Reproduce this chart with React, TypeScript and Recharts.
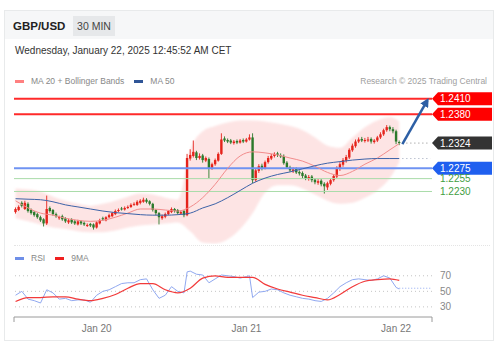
import React from 'react';
import { ComposedChart, LineChart, Bar, Line, Area, XAxis, YAxis, ReferenceLine } from 'recharts';

// 30 min candles, Jan 19 -> Jan 22
const opens = [
  1.2190, 1.2194, 1.2208, 1.2196, 1.2206, 1.2194, 1.2190, 1.2186, 1.2180, 1.2176,
  1.2168, 1.2198, 1.2194, 1.2186, 1.2178, 1.2182, 1.2178, 1.2170, 1.2176, 1.2172,
  1.2166, 1.2172, 1.2169, 1.2164, 1.2167, 1.2166, 1.2160, 1.2168, 1.2178, 1.2174,
  1.2180, 1.2182, 1.2186, 1.2192, 1.2197, 1.2195, 1.2198, 1.2200, 1.2205, 1.2204,
  1.2208, 1.2210, 1.2214, 1.2211, 1.2206, 1.2194, 1.2188, 1.2178, 1.2181, 1.2186,
  1.2190, 1.2196, 1.2194, 1.2187, 1.2192, 1.2184, 1.2294, 1.2299, 1.2306, 1.2295,
  1.2300, 1.2290, 1.2293, 1.2276, 1.2283, 1.2290, 1.2303, 1.2333, 1.2330, 1.2329,
  1.2324, 1.2328, 1.2325, 1.2330, 1.2327, 1.2331, 1.2335, 1.2252, 1.2270, 1.2280,
  1.2276, 1.2287, 1.2294, 1.2299, 1.2304, 1.2300, 1.2299, 1.2286, 1.2277, 1.2270,
  1.2274, 1.2268, 1.2266, 1.2261, 1.2255, 1.2259, 1.2253, 1.2247, 1.2251, 1.2245,
  1.2238, 1.2245, 1.2252, 1.2259, 1.2274, 1.2282, 1.2290, 1.2296, 1.2310, 1.2318,
  1.2327, 1.2332, 1.2328, 1.2329, 1.2332, 1.2326, 1.2329, 1.2335, 1.2341, 1.2349,
  1.2355, 1.2351, 1.2347, 1.2326,
];
const highs = [
  1.2199, 1.2203, 1.2211, 1.2212, 1.2209, 1.2197, 1.2192, 1.2189, 1.2183, 1.2178,
  1.2222, 1.2201, 1.2196, 1.2189, 1.2183, 1.2185, 1.2180, 1.2177, 1.2178, 1.2175,
  1.2175, 1.2174, 1.2172, 1.2168, 1.2169, 1.2168, 1.2172, 1.2177, 1.2181, 1.2182,
  1.2187, 1.2190, 1.2195, 1.2197, 1.2200, 1.2201, 1.2203, 1.2207, 1.2209, 1.2213,
  1.2215, 1.2218, 1.2217, 1.2213, 1.2208, 1.2196, 1.2190, 1.2185, 1.2189, 1.2194,
  1.2199, 1.2198, 1.2196, 1.2193, 1.2194, 1.2303, 1.2312, 1.2329, 1.2309, 1.2304,
  1.2303, 1.2298, 1.2296, 1.2286, 1.2294, 1.2306, 1.2343, 1.2337, 1.2333, 1.2332,
  1.2330, 1.2331, 1.2332, 1.2333, 1.2334, 1.2341, 1.2343, 1.2274, 1.2283, 1.2284,
  1.2290, 1.2299, 1.2303, 1.2306, 1.2307, 1.2304, 1.2302, 1.2289, 1.2280, 1.2277,
  1.2277, 1.2271, 1.2269, 1.2264, 1.2262, 1.2262, 1.2256, 1.2254, 1.2254, 1.2248,
  1.2249, 1.2255, 1.2263, 1.2279, 1.2287, 1.2295, 1.2301, 1.2314, 1.2323, 1.2331,
  1.2335, 1.2336, 1.2334, 1.2336, 1.2335, 1.2332, 1.2338, 1.2345, 1.2352, 1.2359,
  1.2358, 1.2355, 1.2350, 1.2329,
];
const lows = [
  1.2187, 1.2192, 1.2199, 1.2194, 1.2189, 1.2185, 1.2181, 1.2177, 1.2171, 1.2162,
  1.2165, 1.2189, 1.2183, 1.2179, 1.2175, 1.2173, 1.2169, 1.2167, 1.2167, 1.2165,
  1.2164, 1.2165, 1.2163, 1.2161, 1.2161, 1.2156, 1.2158, 1.2166, 1.2173, 1.2172,
  1.2178, 1.2180, 1.2184, 1.2190, 1.2193, 1.2193, 1.2196, 1.2198, 1.2202, 1.2202,
  1.2205, 1.2208, 1.2207, 1.2203, 1.2191, 1.2184, 1.2166, 1.2175, 1.2178, 1.2184,
  1.2188, 1.2189, 1.2185, 1.2185, 1.2180, 1.2182, 1.2290, 1.2296, 1.2291, 1.2292,
  1.2286, 1.2287, 1.2256, 1.2272, 1.2280, 1.2288, 1.2301, 1.2326, 1.2324, 1.2322,
  1.2321, 1.2322, 1.2323, 1.2324, 1.2325, 1.2329, 1.2246, 1.2249, 1.2266, 1.2271,
  1.2273, 1.2284, 1.2291, 1.2296, 1.2297, 1.2295, 1.2282, 1.2274, 1.2268, 1.2266,
  1.2264, 1.2261, 1.2256, 1.2252, 1.2251, 1.2248, 1.2244, 1.2243, 1.2240, 1.2226,
  1.2233, 1.2242, 1.2249, 1.2256, 1.2270, 1.2278, 1.2286, 1.2293, 1.2307, 1.2315,
  1.2324, 1.2326, 1.2325, 1.2326, 1.2323, 1.2323, 1.2326, 1.2332, 1.2338, 1.2346,
  1.2347, 1.2343, 1.2322, 1.2320,
];
const closes = [
  1.2196, 1.2200, 1.2202, 1.2208, 1.2192, 1.2188, 1.2184, 1.2180, 1.2174, 1.2168,
  1.2196, 1.2192, 1.2186, 1.2182, 1.2180, 1.2176, 1.2172, 1.2174, 1.2170, 1.2168,
  1.2172, 1.2168, 1.2166, 1.2165, 1.2164, 1.2160, 1.2170, 1.2174, 1.2176, 1.2180,
  1.2184, 1.2188, 1.2192, 1.2194, 1.2196, 1.2198, 1.2200, 1.2204, 1.2206, 1.2210,
  1.2212, 1.2214, 1.2210, 1.2206, 1.2194, 1.2188, 1.2180, 1.2182, 1.2186, 1.2192,
  1.2196, 1.2192, 1.2188, 1.2190, 1.2184, 1.2295, 1.2301, 1.2307, 1.2295, 1.2299,
  1.2291, 1.2295, 1.2275, 1.2283, 1.2291, 1.2303, 1.2331, 1.2329, 1.2327, 1.2325,
  1.2327, 1.2325, 1.2329, 1.2327, 1.2331, 1.2335, 1.2252, 1.2271, 1.2279, 1.2275,
  1.2287, 1.2295, 1.2299, 1.2303, 1.2301, 1.2299, 1.2285, 1.2277, 1.2271, 1.2273,
  1.2267, 1.2265, 1.2260, 1.2256, 1.2258, 1.2252, 1.2248, 1.2250, 1.2244, 1.2240,
  1.2246, 1.2252, 1.2260, 1.2275, 1.2283, 1.2291, 1.2297, 1.2311, 1.2319, 1.2327,
  1.2331, 1.2329, 1.2330, 1.2331, 1.2327, 1.2329, 1.2335, 1.2341, 1.2349, 1.2355,
  1.2351, 1.2347, 1.2327, 1.2324,
];

// empty slots to the right of the last candle
const extraSlots = 10;

// indicator samples (candle index -> value)
const bandIdx = [0, 4, 8, 12, 16, 20, 24, 28, 32, 36, 40, 44, 48, 52, 56, 60, 64, 68, 72, 76, 80, 84, 88, 92, 96, 100, 104, 108, 112, 116, 120, 123];
const ma20 = [1.2212, 1.2198, 1.2188, 1.2184, 1.2178, 1.2174, 1.2172, 1.2174, 1.2180, 1.2188, 1.2196, 1.2196, 1.2194, 1.2192, 1.2200, 1.2218, 1.2244, 1.2275, 1.2299, 1.2307, 1.2305, 1.2301, 1.2295, 1.2289, 1.2279, 1.2267, 1.2261, 1.2269, 1.2283, 1.2295, 1.2311, 1.2323];
const ma50 = [1.2216, 1.2215, 1.2214, 1.2210, 1.2204, 1.2200, 1.2196, 1.2192, 1.2189, 1.2187, 1.2185, 1.2184, 1.2184, 1.2185, 1.2188, 1.2198, 1.2206, 1.2218, 1.2232, 1.2246, 1.2256, 1.2263, 1.2268, 1.2274, 1.2280, 1.2285, 1.2288, 1.2291, 1.2293, 1.2294, 1.2294, 1.2294];
const bbUpper = [1.2236, 1.2234, 1.2230, 1.2220, 1.2212, 1.2206, 1.2202, 1.2206, 1.2212, 1.2220, 1.2226, 1.2224, 1.2218, 1.2214, 1.2311, 1.2347, 1.2357, 1.2364, 1.2368, 1.2368, 1.2366, 1.2362, 1.2357, 1.2349, 1.2335, 1.2319, 1.2315, 1.2335, 1.2355, 1.2368, 1.2374, 1.2366];
const bbLower = [1.2178, 1.2172, 1.2166, 1.2160, 1.2157, 1.2153, 1.2151, 1.2151, 1.2154, 1.2160, 1.2164, 1.2166, 1.2168, 1.2170, 1.2153, 1.2131, 1.2129, 1.2137, 1.2157, 1.2188, 1.2228, 1.2242, 1.2242, 1.2236, 1.2224, 1.2212, 1.2206, 1.2208, 1.2218, 1.2232, 1.2256, 1.2287];

const levels = [1.2410, 1.2380, 1.2324, 1.2275, 1.2255, 1.2230];
const levelLine = ['#ff2a2a', '#ff2a2a', '', '#6f93f2', '#a9dca9', '#a9dca9'];
const levelBox = ['#ff0000', '#ff0000', '#333333', '#1f5fef', '', ''];
const lastPrice = 1.2324;
const ma50Last = 1.2294;
const forecastIdx = [124, 132];
const forecast = [1.2322, 1.2407];

const rsiIdx = [0, 2, 4, 6, 8, 10, 12, 14, 16, 18, 20, 22, 24, 26, 28, 30, 32, 34, 36, 38, 40, 42, 44, 46, 48, 50, 52, 54, 55, 56, 58, 60, 62, 64, 66, 68, 70, 72, 74, 75, 76, 78, 80, 82, 84, 86, 88, 90, 92, 94, 96, 98, 100, 102, 104, 106, 108, 110, 112, 114, 116, 118, 120, 122, 123];
const rsiVals = [45, 50, 40, 38, 35, 52, 48, 40, 41, 38, 39, 39, 36, 45, 50, 52, 56, 60, 61, 61, 65, 66, 52, 41, 45, 56, 50, 48, 75, 76, 72, 71, 61, 66, 71, 70, 69, 67, 69, 70, 42, 49, 50, 53, 52, 48, 45, 43, 41, 40, 38, 37, 41, 48, 56, 61, 65, 66, 65, 64, 66, 70, 67, 55, 53];
const rsiMa = [37, 42, 42, 43, 43, 40, 38, 41, 46, 54, 60, 60, 52, 48, 54, 67, 70, 68, 68, 68, 59, 53, 49, 45, 42, 39, 46, 56, 63, 65, 66, 64];
const rsiLast = 54;
const rsiLevels = [70, 50, 30];

const dayTicks = [26, 74, 122];
const dayLabels = ['Jan 20', 'Jan 21', 'Jan 22'];

const n = closes.length;
const total = n + extraSlots;

const rows: any[] = Array.from({ length: total }, (_, i) => ({ i }));
closes.forEach((c, i) => {
  rows[i].range = [lows[i], highs[i]];
  rows[i].o = opens[i];
  rows[i].c = c;
});
bandIdx.forEach((idx, k) => {
  rows[idx].ma20 = ma20[k];
  rows[idx].ma50 = ma50[k];
  rows[idx].bb = [bbLower[k], bbUpper[k]];
});
forecastIdx.forEach((idx, k) => { rows[idx].fc = forecast[k]; });
rows[n].last = lastPrice;
rows[total - 1].last = lastPrice;
rows[n].ma50x = ma50Last;
rows[total - 1].ma50x = ma50Last;

const rsiData = rsiIdx.map((i, k) => ({ i, v: rsiVals[k] }));
const rsiMaData = bandIdx.map((i, k) => ({ i, v: rsiMa[k] }));
const rsiExt = [{ i: n - 1, v: rsiLast }, { i: total - 1, v: rsiLast }];

const font = 'Arial, "Liberation Sans", Helvetica, sans-serif';

function Candle(props: any) {
  const { x, y, width, height, payload } = props;
  if (!payload || payload.o == null || !Array.isArray(payload.range)) return null;
  const [lo, hi] = payload.range;
  const top = Math.min(y, y + height);
  const h = Math.abs(height);
  const py = (v: number) => top + ((hi - v) / (hi - lo)) * h;
  const up = payload.c >= payload.o;
  const color = up ? '#e5231b' : '#2b7a2b';
  const cx = x + width / 2;
  const bTop = py(Math.max(payload.o, payload.c));
  const bBot = py(Math.min(payload.o, payload.c));
  return (
    <g>
      <line x1={cx} x2={cx} y1={top} y2={top + h} stroke={color} strokeWidth={0.9} />
      <rect x={cx - 1.2} y={bTop} width={2.4} height={Math.max(1, bBot - bTop)} fill={color} />
    </g>
  );
}

function LevelTick(props: any) {
  const { x, y, payload } = props;
  const k = levels.indexOf(payload.value);
  const txt = Number(payload.value).toFixed(4);
  const box = levelBox[k];
  if (!box) {
    return (
      <text x={x + 8} y={y} dy="0.35em" fill="#3f9e3f" fontSize={10} fontFamily={font}>{txt}</text>
    );
  }
  return (
    <g>
      <path d={`M${x},${y} L${x + 6},${y - 6.5} L${x + 60},${y - 6.5} L${x + 60},${y + 6.5} L${x + 6},${y + 6.5} Z`} fill={box} />
      <text x={x + 8} y={y} dy="0.35em" fill="#fff" fontSize={10} fontFamily={font}>{txt}</text>
    </g>
  );
}

function DayTick(props: any) {
  const { x, y, payload } = props;
  const k = dayTicks.indexOf(payload.value);
  if (k < 0) {
    return <line x1={x} x2={x} y1={y - 8} y2={y - 3} stroke="#9a9a9a" strokeWidth={1} />;
  }
  return (
    <text x={x} y={y} dy="0.71em" textAnchor="middle" fill="#777" fontSize={10} fontFamily={font}>{dayLabels[k]}</text>
  );
}

const swatch = (color: string) => ({
  display: 'inline-block', width: 9, height: 3, background: color, marginRight: 7, verticalAlign: 'middle',
});

export default function App() {
  return (
    <div style={{ position: 'absolute', left: 0, top: 0, width: 504, height: 356, background: '#fff', fontFamily: font, overflow: 'hidden' }}>
      {/* card + header */}
      <div style={{ position: 'absolute', left: 4, top: 10, width: 488, height: 329, border: '1px solid #e8eaeb' }} />
      <div style={{ position: 'absolute', left: 5, top: 11, width: 488, height: 28, background: '#f6f7f8' }} />
      <div style={{ position: 'absolute', left: 13, top: 19, fontSize: 11.5, fontWeight: 700, color: '#222', lineHeight: '14px' }}>GBP/USD</div>
      <div style={{ position: 'absolute', left: 73, top: 16, width: 42, height: 20, background: '#e6e8ea', color: '#444', fontSize: 10.5, lineHeight: '20px', textAlign: 'center' }}>30 MIN</div>
      <div style={{ position: 'absolute', left: 15, top: 45, fontSize: 10, color: '#333', lineHeight: '12px', whiteSpace: 'nowrap' }}>
        Wednesday, January 22, 2025 12:45:52 AM CET
      </div>

      {/* legend */}
      <div style={{ position: 'absolute', left: 15, top: 76, fontSize: 8.5, color: '#888', lineHeight: '11px', whiteSpace: 'nowrap' }}>
        <span style={swatch('#ff8080')} />MA 20 + Bollinger Bands
        <span style={{ ...swatch('#2f5597'), marginLeft: 10 }} />MA 50
      </div>
      <div style={{ position: 'absolute', right: 17, top: 76, fontSize: 8.5, color: '#a0a0a0', lineHeight: '11px', whiteSpace: 'nowrap' }}>
        Research © 2025 Trading Central
      </div>

      {/* price panel */}
      <div style={{ position: 'absolute', left: 0, top: 0 }}>
        <ComposedChart width={504} height={250} data={rows} margin={{ top: 88, right: 0, bottom: 6, left: 14 }} barCategoryGap={0}>
          <defs>
            <filter id="soft" x="-10%" y="-10%" width="120%" height="120%">
              <feGaussianBlur stdDeviation="1.3" />
            </filter>
            <marker id="arrowHead" viewBox="0 0 10 10" refX="7" refY="5" markerWidth="3.6" markerHeight="3.6" orient="auto">
              <path d="M0,0 L10,5 L0,10 z" fill="#2d5fa5" />
            </marker>
          </defs>
          <XAxis dataKey="i" hide />
          <YAxis
            orientation="right"
            width={72}
            type="number"
            domain={[1.2128, 1.2431]}
            allowDataOverflow
            ticks={levels}
            interval={0}
            axisLine={false}
            tickLine={false}
            tickSize={0}
            tickMargin={0}
            tick={(p: any) => <LevelTick {...p} />}
          />
          <Area dataKey="bb" type="monotone" connectNulls stroke="none" fill="#fde4e4" fillOpacity={1} filter="url(#soft)" isAnimationActive={false} />
          {levels.map((v, k) =>
            levelLine[k] ? (
              <ReferenceLine key={v} y={v} stroke={levelLine[k]} strokeWidth={k < 4 ? 2 : 1} />
            ) : null
          )}
          <Line dataKey="ma20" type="monotone" connectNulls stroke="#f28c8c" strokeWidth={1} dot={false} isAnimationActive={false} />
          <Line dataKey="ma50" type="monotone" connectNulls stroke="#3d63a8" strokeWidth={1} dot={false} isAnimationActive={false} />
          <Bar dataKey="range" barSize={3} shape={(p: any) => <Candle {...p} />} isAnimationActive={false} />
          <Line dataKey="last" connectNulls stroke="#888" strokeWidth={1} strokeDasharray="1 3" dot={false} isAnimationActive={false} />
          <Line dataKey="ma50x" connectNulls stroke="#9aa3b8" strokeWidth={1} strokeDasharray="1 3" dot={false} isAnimationActive={false} />
          <Line dataKey="fc" connectNulls stroke="#2d5fa5" strokeWidth={2.5} dot={false} markerEnd="url(#arrowHead)" isAnimationActive={false} />
        </ComposedChart>
      </div>

      <div style={{ position: 'absolute', left: 14, top: 245, width: 476, borderTop: '1px dotted #e4e4e4' }} />

      {/* RSI legend */}
      <div style={{ position: 'absolute', left: 15, top: 253, fontSize: 8.5, color: '#888', lineHeight: '11px', whiteSpace: 'nowrap' }}>
        <span style={swatch('#6f8fe8')} />RSI
        <span style={{ ...swatch('#f02020'), marginLeft: 10 }} />9MA
      </div>

      {/* RSI panel */}
      <div style={{ position: 'absolute', left: 0, top: 250 }}>
        <LineChart width={504} height={90} margin={{ top: 18, right: 0, bottom: 0, left: 14 }}>
          <XAxis
            type="number"
            dataKey="i"
            domain={[-0.5, total - 0.5]}
            allowDataOverflow
            ticks={[-0.5, ...dayTicks, total - 0.5]}
            interval={0}
            height={23}
            axisLine={{ stroke: '#9a9a9a' }}
            tickLine={false}
            tick={(p: any) => <DayTick {...p} />}
          />
          <YAxis
            orientation="right"
            width={72}
            type="number"
            domain={[17, 80]}
            allowDataOverflow
            ticks={rsiLevels}
            interval={0}
            axisLine={false}
            tickLine={false}
            tick={{ fill: '#888', fontSize: 10, fontFamily: font }}
          />
          {rsiLevels.map((v) => (
            <ReferenceLine key={v} y={v} stroke="#c4c4c4" strokeDasharray="1 3" />
          ))}
          <Line data={rsiData} dataKey="v" type="linear" stroke="#90a8f0" strokeWidth={1} dot={false} isAnimationActive={false} />
          <Line data={rsiExt} dataKey="v" type="linear" stroke="#90a8f0" strokeWidth={1} strokeDasharray="1 2" dot={false} isAnimationActive={false} />
          <Line data={rsiMaData} dataKey="v" type="monotone" stroke="#f23a3a" strokeWidth={1.2} dot={false} isAnimationActive={false} />
        </LineChart>
      </div>
    </div>
  );
}
